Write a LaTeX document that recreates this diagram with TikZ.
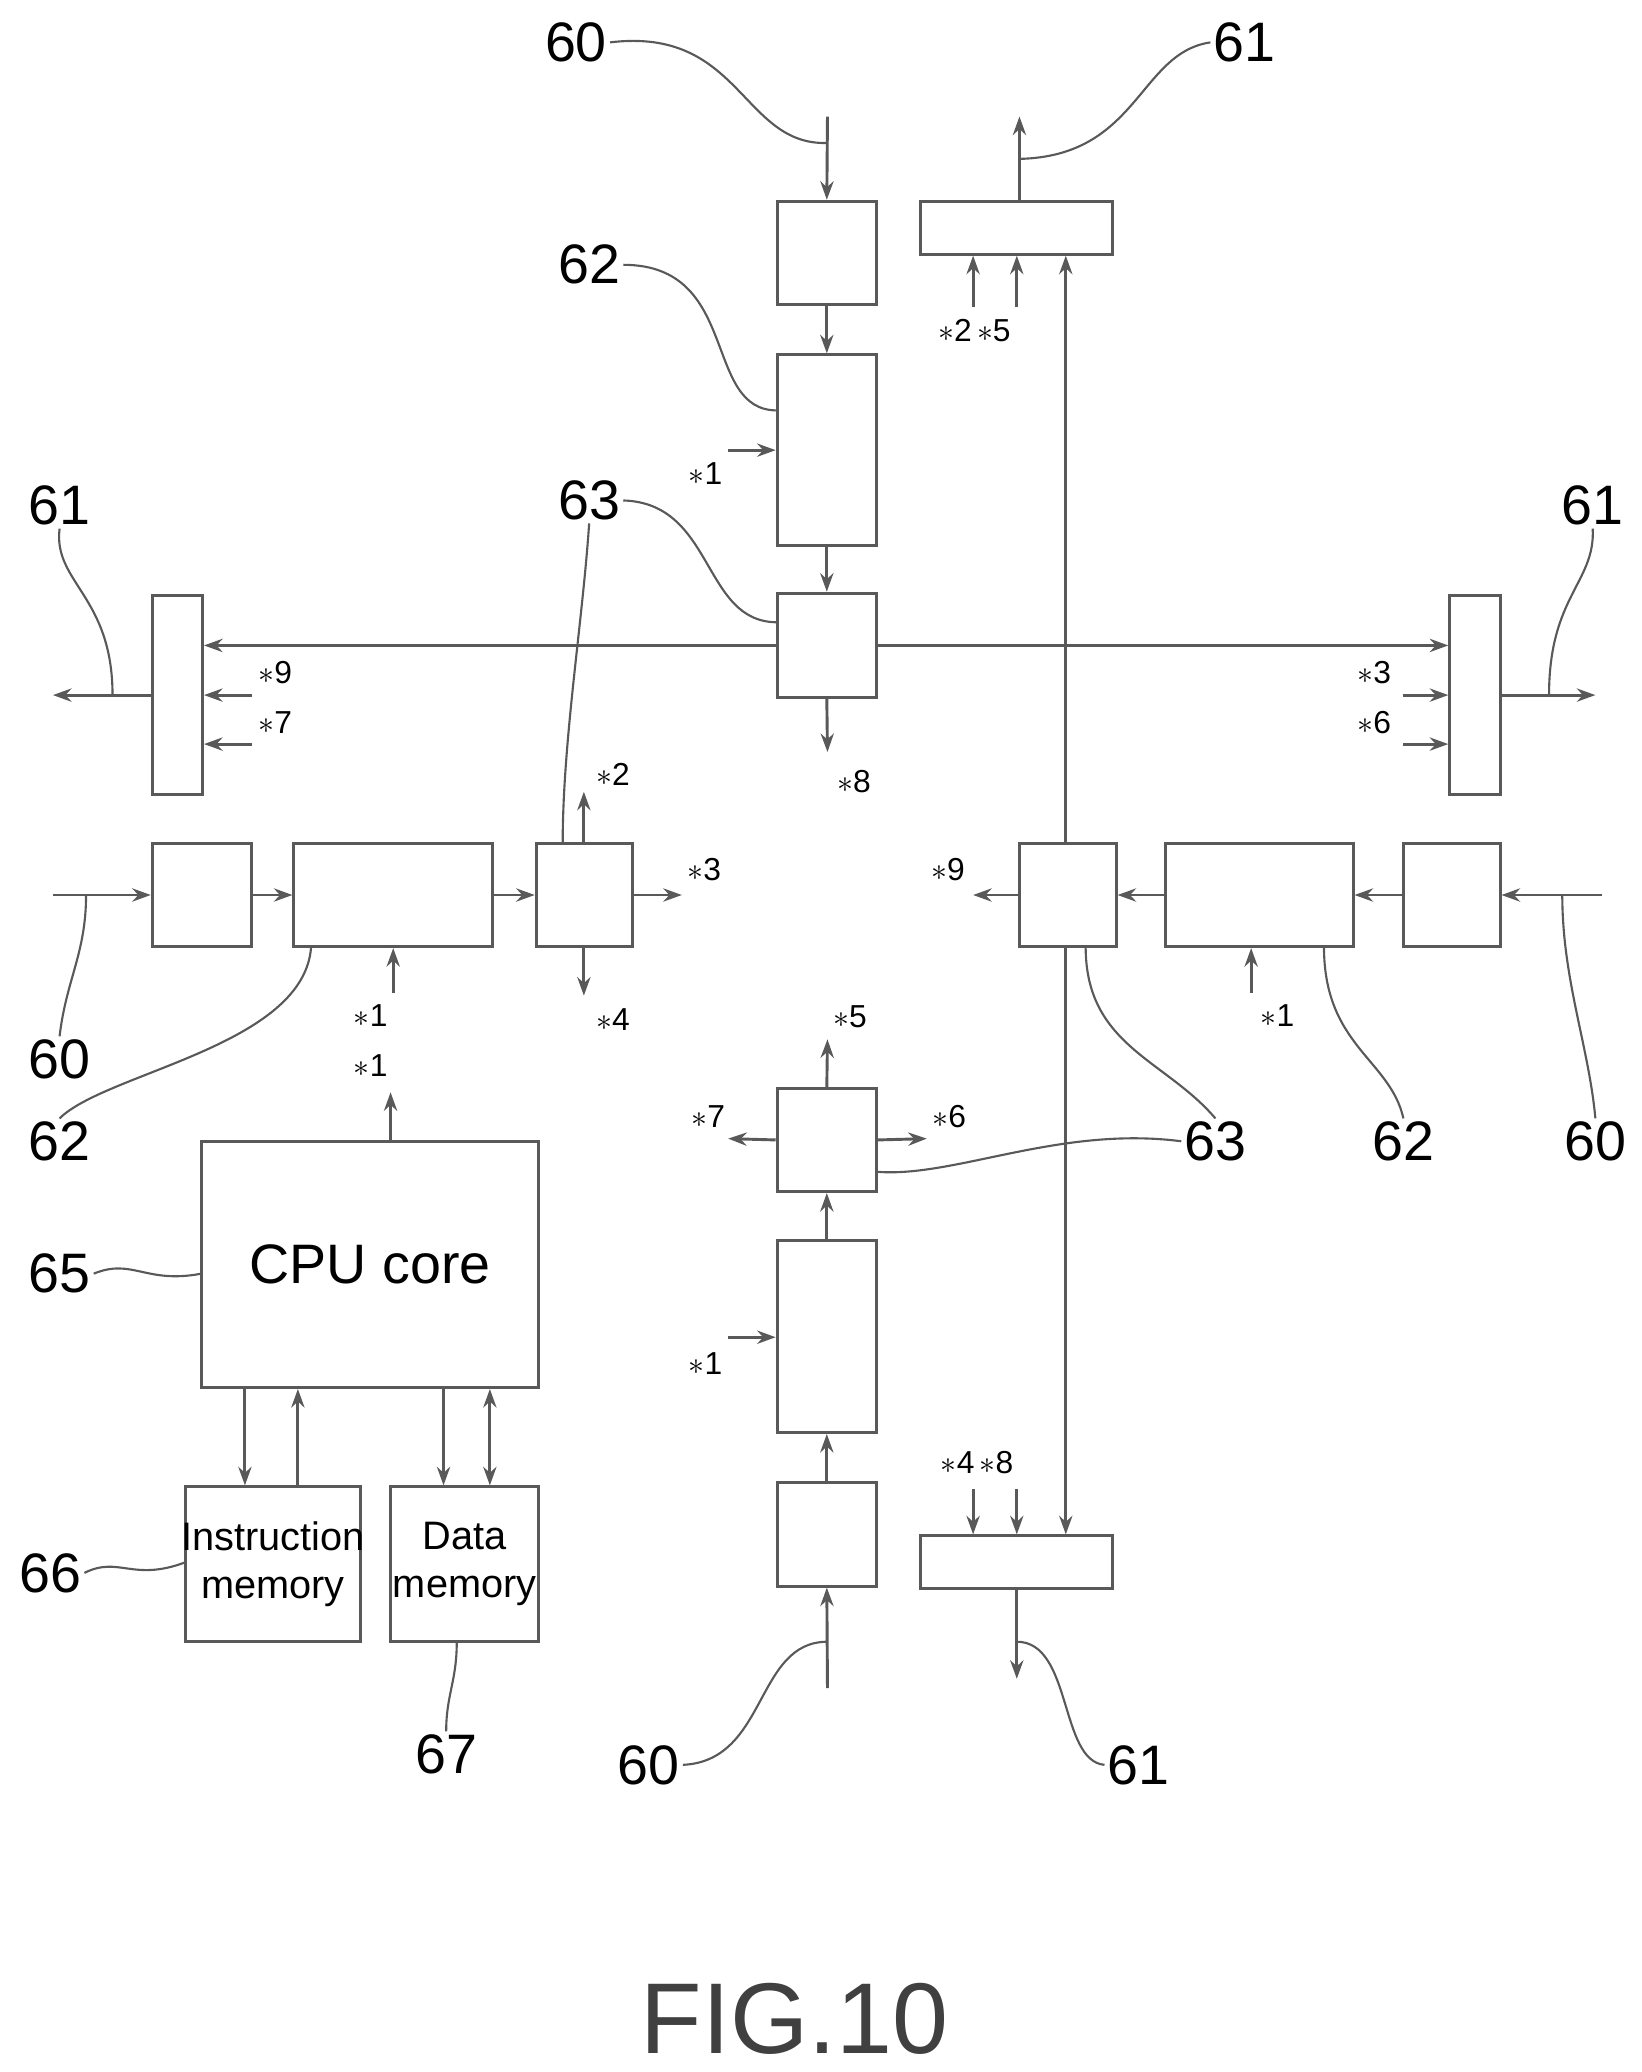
\documentclass[tikz,border=0pt]{standalone}
\usepackage{fontspec}
\setmainfont{Liberation Sans}
\usetikzlibrary{arrows.meta}
\begin{document}
\begin{tikzpicture}[x=0.5pt,y=-0.5pt,
 ln/.style={draw=black!65,line width=1.1pt},
 ar/.style={ln,-{Stealth[open,length=7pt,width=5pt]}},
 dar/.style={ln,{Stealth[open,length=7pt,width=5pt]}-{Stealth[open,length=7pt,width=5pt]}},
 box/.style={ln,rectangle,inner sep=0pt},
 lab/.style={font=\fontsize{21}{21}\selectfont,inner sep=1pt},
 st/.style={font=\fontsize{12}{12}\selectfont,inner sep=1pt},
 wv/.style={ln,line width=0.8pt}]
\useasboundingbox (0,0) rectangle (1240,1565);
\newcommand\bx[6][]{\node[box,minimum width={(#5-#3)*0.5pt},minimum height={(#6-#4)*0.5pt},#1] (#2) at ({(#3+#5)/2},{(#4+#6)/2}) {};}
% top column
\bx{tA}{587}{152}{662}{230}
\bx{tB}{587}{268}{662}{412}
\bx{tC}{587}{448}{662}{527}
\bx{tO}{695}{152}{840}{192}
% left row
\bx{lA}{115}{637}{190}{715}
\bx{lB}{222}{637}{372}{715}
\bx{lC}{405}{637}{478}{715}
\bx{lO}{115}{450}{153}{600}
% right row
\bx{rC}{770}{637}{843}{715}
\bx{rB}{880}{637}{1022}{715}
\bx{rA}{1060}{637}{1133}{715}
\bx{rO}{1095}{450}{1133}{600}
% bottom column
\bx{bC}{587}{822}{662}{900}
\bx{bB}{587}{937}{662}{1082}
\bx{bA}{587}{1120}{662}{1198}
\bx{bO}{695}{1160}{840}{1200}
% CPU
\bx[font=\fontsize{21}{21}\selectfont]{cpu}{152}{862}{407}{1048}
\node[lab] at (cpu) {CPU core};
\bx{im}{140}{1123}{272}{1240}
\bx{dm}{295}{1123}{407}{1240}
\node[align=center,font=\fontsize{15}{18}\selectfont] (imt) at (im) {Instruction\\memory};
\node[align=center,font=\fontsize{15}{18}\selectfont] (dmt) at (dm) {Data\\memory};

% coordinates
\coordinate (t60) at (625,88);
\coordinate (b60) at (625,1275);
\coordinate (l60) at (40,676);
\coordinate (r60) at (1210,676);
\coordinate (t61) at (770,88);
\coordinate (b61) at (768,1268);
\coordinate (l61) at (40,525);
\coordinate (r61) at (1205,525);

% top column
\draw[ar] (t60) -- (tA.north);
\draw[ar] (tA) -- (tB);
\draw[ar] (tB) -- (tC);
\coordinate (s1t) at (550,340); \draw[ar] (s1t) -- (tB.west|-s1t);
\node[st,anchor=east] (s1tl) at (548,358) {$*$1};
\draw[ar] (tO.north-|t61) -- (t61);
\coordinate (s2) at (735,232); \draw[ar] (s2) -- (tO.south-|s2);
\coordinate (s5) at (768,232); \draw[ar] (s5) -- (tO.south-|s5);
\node[st] (s25) at (736,250) {$*$2\,$*$5};
\draw[ar] (tC.west) -- (lO.east|-tC.west);
\draw[ar] (tC.east) -- (rO.west|-tC.east);
\coordinate (s8) at (625,568); \draw[ar] (tC.south) -- (s8);
\node[st] (s8l) at (645,590) {$*$8};
\draw[ar] (lO.west|-l61) -- (l61);
\draw[ar] (rO.east|-r61) -- (r61);
\coordinate (s9a) at (190,525); \draw[ar] (s9a) -- (lO.east|-s9a);
\coordinate (s7a) at (190,562); \draw[ar] (s7a) -- (lO.east|-s7a);
\node[st] (s9l) at (208,508) {$*$9};
\node[st] (s7l) at (208,546) {$*$7};
\coordinate (s3a) at (1060,525); \draw[ar] (s3a) -- (rO.west|-s3a);
\coordinate (s6a) at (1060,562); \draw[ar] (s6a) -- (rO.west|-s6a);
\node[st] (s3l) at (1038,508) {$*$3};
\node[st] (s6l) at (1038,546) {$*$6};

% left row
\draw[ar] (l60) -- (lA.west);
\draw[ar] (lA) -- (lB);
\draw[ar] (lB) -- (lC);
\coordinate (s1l) at (297,750); \draw[ar] (s1l) -- (lB.south-|s1l);
\node[st] (s1ll) at (280,767) {$*$1};
\coordinate (s2l) at (441,598); \draw[ar] (lC.north-|s2l) -- (s2l);
\node[st] (s2ll) at (463,585) {$*$2};
\coordinate (s3l2) at (515,676); \draw[ar] (lC.east) -- (s3l2);
\node[st] (s3ll) at (532,657) {$*$3};
\coordinate (s4l) at (441,752); \draw[ar] (lC.south-|s4l) -- (s4l);
\node[st] (s4ll) at (463,770) {$*$4};

% right row
\draw[ar] (r60) -- (rA.east);
\draw[ar] (rA) -- (rB);
\draw[ar] (rB) -- (rC);
\coordinate (s9r) at (735,676); \draw[ar] (rC.west) -- (s9r);
\node[st] (s9rl) at (716,657) {$*$9};
\coordinate (s1r) at (945,750); \draw[ar] (s1r) -- (rB.south-|s1r);
\node[st] (s1rl) at (965,767) {$*$1};
\coordinate (vx) at (805,637);
\draw[ar] (rC.north-|vx) -- (tO.south-|vx);
\draw[ar] (rC.south-|vx) -- (bO.north-|vx);

% bottom column
\draw[ar] (b60) -- (bA.south);
\draw[ar] (bA) -- (bB);
\draw[ar] (bB) -- (bC);
\coordinate (s1b) at (550,1010); \draw[ar] (s1b) -- (bB.west|-s1b);
\node[st,anchor=east] (s1bl) at (548,1030) {$*$1};
\coordinate (s5b) at (625,785); \draw[ar] (bC.north) -- (s5b);
\node[st] (s5bl) at (642,768) {$*$5};
\coordinate (s7b) at (550,860); \draw[ar] (bC.west) -- (s7b);
\node[st] (s7bl) at (535,843) {$*$7};
\coordinate (s6b) at (700,860); \draw[ar] (bC.east) -- (s6b);
\node[st] (s6bl) at (717,843) {$*$6};
\draw[ar] (bO.south-|b61) -- (b61);
\coordinate (s4b) at (735,1125); \draw[ar] (s4b) -- (bO.north-|s4b);
\coordinate (s8b) at (768,1125); \draw[ar] (s8b) -- (bO.north-|s8b);
\node[st] (s48) at (738,1105) {$*$4\,$*$8};

% CPU
\coordinate (s1c) at (295,825); \draw[ar] (cpu.north-|s1c) -- (s1c);
\node[st] (s1cl) at (280,805) {$*$1};
\draw[ar] (cpu.south-|185,0) -- (im.north-|185,0);
\draw[ar] (im.north-|225,0) -- (cpu.south-|225,0);
\draw[ar] (cpu.south-|335,0) -- (dm.north-|335,0);
\draw[dar] (cpu.south-|370,0) -- (dm.north-|370,0);

% labels with leaders
\node[lab] (L60a) at (435,32) {60};
\draw[wv] (L60a.east) .. controls (560,20) and (560,110) .. (625,108);
\node[lab] (L61a) at (940,32) {61};
\draw[wv] (L61a.west) .. controls (860,40) and (860,118) .. (770,120);
\node[lab] (L62a) at (445,200) {62};
\draw[wv] (L62a.east) .. controls (560,200) and (530,310) .. (587,310);
\node[lab] (L63a) at (445,378) {63};
\draw[wv] (L63a.east) .. controls (540,380) and (530,470) .. (587,470);
\draw[wv] (L63a.south) .. controls (440,470) and (425,560) .. (425,637);
\node[lab] (L61l) at (45,382) {61};
\draw[wv] (L61l.south) .. controls (40,440) and (85,450) .. (85,525);
\node[lab] (L61r) at (1203,382) {61};
\draw[wv] (L61r.south) .. controls (1205,440) and (1170,450) .. (1170,525);
\node[lab] (L60l) at (45,800) {60};
\draw[wv] (L60l.north) .. controls (50,740) and (65,720) .. (65,676);
\node[lab] (L62l) at (45,862) {62};
\draw[wv] (L62l.north) .. controls (80,810) and (230,790) .. (235,715);
\node[lab] (L63r) at (918,862) {63};
\draw[wv] (L63r.north) .. controls (880,800) and (820,790) .. (820,715);
\draw[wv] (L63r.west) .. controls (800,850) and (720,890) .. (662,885);
\node[lab] (L62r) at (1060,862) {62};
\draw[wv] (L62r.north) .. controls (1050,800) and (1000,790) .. (1000,715);
\node[lab] (L60r) at (1205,862) {60};
\draw[wv] (L60r.north) .. controls (1200,790) and (1180,740) .. (1180,676);
\node[lab] (L65) at (45,962) {65};
\draw[wv] (L65.east) .. controls (100,950) and (110,970) .. (152,962);
\node[lab] (L66) at (38,1188) {66};
\draw[wv] (L66.east) .. controls (90,1175) and (100,1195) .. (140,1180);
\node[lab] (L67) at (337,1325) {67};
\draw[wv] (L67.north) .. controls (337,1280) and (345,1270) .. (345,1240);
\node[lab] (L60b) at (490,1333) {60};
\draw[wv] (L60b.east) .. controls (580,1330) and (570,1240) .. (625,1240);
\node[lab] (L61b) at (860,1333) {61};
\draw[wv] (L61b.west) .. controls (800,1330) and (810,1240) .. (768,1240);

\node[font=\fontsize{38}{38}\selectfont,text=black!75] (fig) at (600,1525) {FIG.10};
\end{tikzpicture}
\end{document}
